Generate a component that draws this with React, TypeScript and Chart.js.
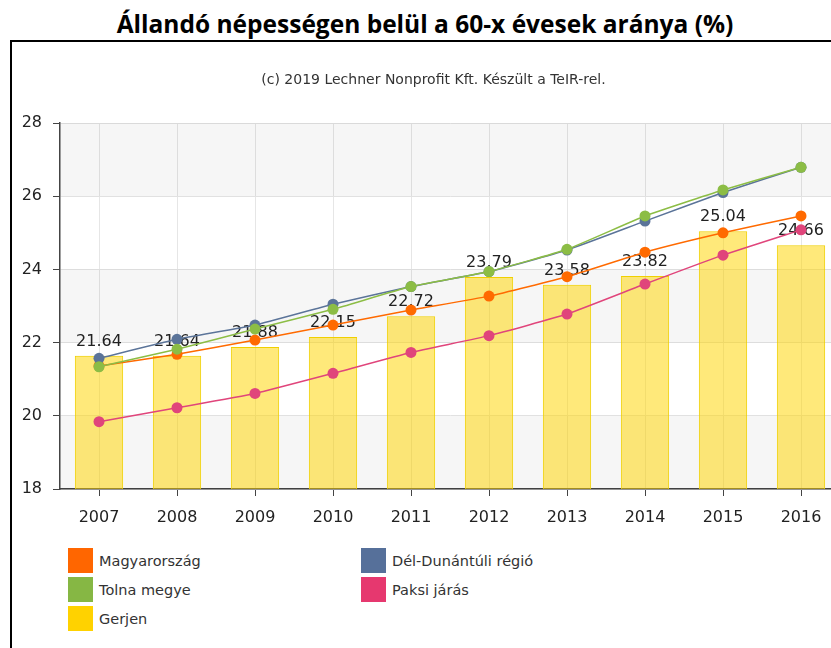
import React, { useEffect, useRef } from "react";
import { Chart, registerables } from "chart.js";

Chart.register(...registerables);

const TITLE = "Állandó népességen belül a 60-x évesek aránya (%)";
const CREDIT = "(c) 2019 Lechner Nonprofit Kft. Készült a TeIR-rel.";

const years = ["2007", "2008", "2009", "2010", "2011", "2012", "2013", "2014", "2015", "2016"];
const magyarorszag = [21.36, 21.68, 22.07, 22.48, 22.89, 23.27, 23.8, 24.47, 25.0, 25.46];
const delDunantul = [21.57, 22.09, 22.48, 23.05, 23.53, 23.94, 24.53, 25.32, 26.1, 26.79];
const tolnaMegye = [21.34, 21.82, 22.37, 22.91, 23.53, 23.94, 24.55, 25.46, 26.17, 26.79];
const paksiJaras = [19.84, 20.22, 20.61, 21.16, 21.73, 22.19, 22.78, 23.6, 24.39, 25.08];
const gerjen = [21.64, 21.64, 21.88, 22.15, 22.72, 23.79, 23.58, 23.82, 25.04, 24.66];

const yTicks = [18, 20, 22, 24, 26, 28];

const legendItems = [
  { label: "Magyarország", color: "#ff6600", col: 0, row: 0 },
  { label: "Dél-Dunántúli régió", color: "#56709a", col: 1, row: 0 },
  { label: "Tolna megye", color: "#86b744", col: 0, row: 1 },
  { label: "Paksi járás", color: "#e6386f", col: 1, row: 1 },
  { label: "Gerjen", color: "#ffd200", col: 0, row: 2 },
];

const FONT = "'DejaVu Sans', Verdana, sans-serif";

const bandsPlugin = {
  id: "bands",
  beforeDatasetsDraw(chart: any) {
    const { ctx, chartArea, scales } = chart;
    const y = scales.y;
    ctx.save();
    ctx.fillStyle = "rgba(0,0,0,0.035)";
    const bands = [
      [26, 28],
      [22, 24],
      [18, 20],
    ];
    for (const [a, b] of bands) {
      const top = y.getPixelForValue(b);
      const bot = y.getPixelForValue(a);
      ctx.fillRect(chartArea.left, top, chartArea.right - chartArea.left, bot - top);
    }
    ctx.restore();
  },
};

const barLabelPlugin = {
  id: "barLabels",
  afterDatasetDraw(chart: any, args: any) {
    const ds = chart.data.datasets[args.index];
    if (ds.type !== "bar") return;
    const { ctx } = chart;
    ctx.save();
    ctx.font = `16px ${FONT}`;
    ctx.fillStyle = "#222";
    ctx.textAlign = "center";
    ctx.textBaseline = "alphabetic";
    args.meta.data.forEach((el: any, i: number) => {
      ctx.fillText(ds.data[i].toFixed(2), el.x, el.y - 10);
    });
    ctx.restore();
  },
};

export default function App() {
  const ref = useRef<HTMLCanvasElement>(null);

  useEffect(() => {
    if (!ref.current) return;
    const line = (label: string, data: number[], color: string, order: number) => ({
      type: "line" as const,
      label,
      data,
      borderColor: color,
      backgroundColor: color,
      borderWidth: 1.5,
      pointRadius: 5.5,
      pointBorderWidth: 0,
      pointBackgroundColor: color,
      tension: 0.15,
      order,
    });
    const chart = new Chart(ref.current, {
      type: "bar",
      data: {
        labels: years,
        datasets: [
          line("Magyarország", magyarorszag, "#ff6a00", 3),
          line("Dél-Dunántúli régió", delDunantul, "#5b7499", 2),
          line("Tolna megye", tolnaMegye, "#8cbd45", 1),
          line("Paksi járás", paksiJaras, "#e0457b", 4),
          {
            type: "bar" as const,
            label: "Gerjen",
            data: gerjen,
            backgroundColor: "rgba(255,212,0,0.52)",
            borderColor: "#f0d000",
            borderWidth: 1,
            barPercentage: 0.62,
            categoryPercentage: 1,
            order: 10,
          },
        ] as any,
      },
      options: {
        animation: false,
        responsive: false,
        devicePixelRatio: 1,
        layout: { padding: { left: 0, right: 44, top: 81, bottom: 13 } },
        plugins: {
          legend: { display: false },
          tooltip: { enabled: false },
          title: { display: false },
        },
        scales: {
          x: {
            offset: true,
            grid: {
              offset: false,
              color: "#e6e6e6",
              tickColor: "#444",
              tickLength: 7,
              drawOnChartArea: true,
            },
            border: { color: "#444", width: 1.5 },
            ticks: { font: { family: FONT, size: 16 }, color: "#222", padding: 12 },
            afterFit: (s: any) => {
              s.height = 40;
            },
          },
          y: {
            min: 18,
            max: 28,
            afterBuildTicks: (s: any) => {
              s.ticks = yTicks.map((v) => ({ value: v }));
            },
            grid: { color: "#e2e2e2", tickColor: "#444", tickLength: 7 },
            border: { color: "#444", width: 1.5 },
            ticks: { font: { family: FONT, size: 16 }, color: "#222", padding: 11 },
            afterFit: (s: any) => {
              s.width = 48;
            },
          },
        },
      },
      plugins: [bandsPlugin, barLabelPlugin],
    });
    return () => chart.destroy();
  }, []);

  return (
    <div style={{ position: "fixed", left: 0, top: 0, width: 831, height: 648, overflow: "hidden", background: "#fff" }}>
      <div
        style={{
          position: "absolute",
          left: 0,
          width: 850,
          top: 8,
          textAlign: "center",
          fontFamily: "'Open Sans', Lato, sans-serif",
          fontWeight: 700,
          fontSize: 24.5,
          lineHeight: "32px",
          color: "#000",
          whiteSpace: "nowrap",
        }}
      >
        {TITLE}
      </div>
      <div
        style={{
          position: "absolute",
          left: 10,
          top: 40,
          width: 1000,
          height: 1000,
          borderLeft: "2px solid #000",
          borderTop: "2px solid #000",
        }}
      />
      <canvas ref={ref} width={872} height={500} style={{ position: "absolute", left: 12, top: 42, width: 872, height: 500 }} />
      <div
        style={{
          position: "absolute",
          left: 0,
          width: 867,
          top: 70,
          textAlign: "center",
          fontFamily: FONT,
          fontSize: 14,
          lineHeight: "18px",
          color: "#333",
          whiteSpace: "nowrap",
        }}
      >
        {CREDIT}
      </div>
      {legendItems.map((it) => (
        <div
          key={it.label}
          style={{
            position: "absolute",
            left: it.col === 0 ? 68 : 361,
            top: 548 + it.row * 29,
            height: 25,
            display: "flex",
            alignItems: "center",
            fontFamily: FONT,
            fontSize: 14.5,
            color: "#333",
            whiteSpace: "nowrap",
          }}
        >
          <span style={{ display: "inline-block", width: 25, height: 25, background: it.color, marginRight: 6 }} />
          {it.label}
        </div>
      ))}
    </div>
  );
}
